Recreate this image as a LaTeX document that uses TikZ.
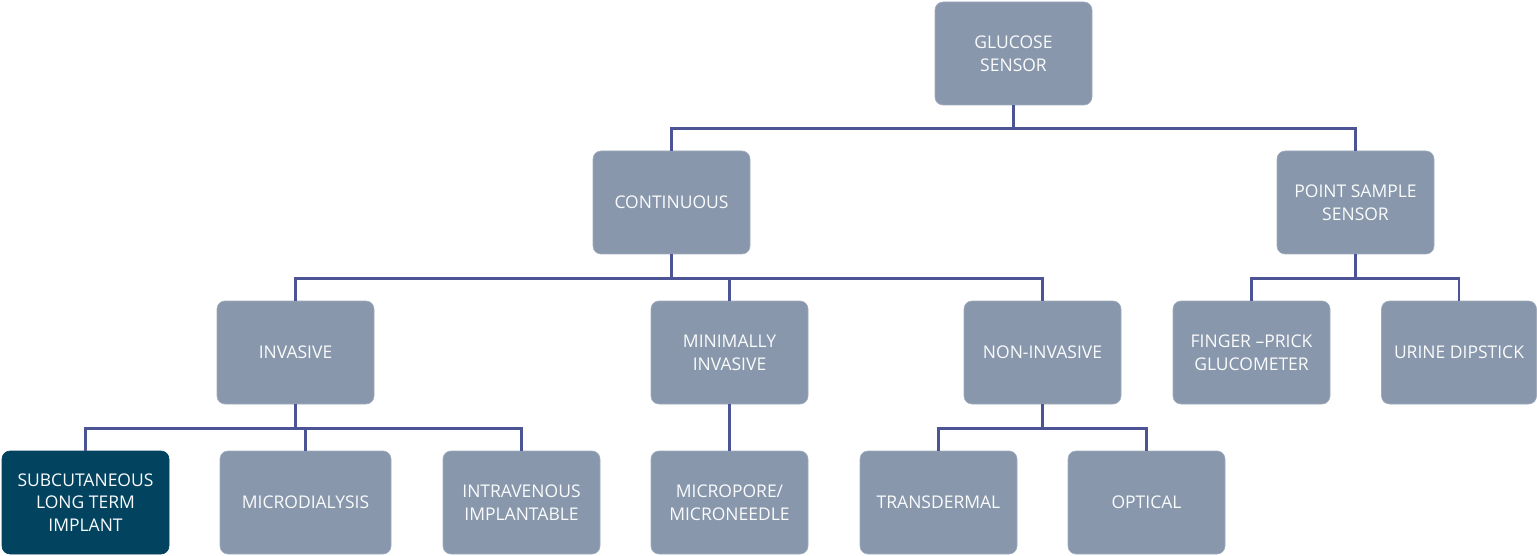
\documentclass[tikz,border=0pt]{standalone}
\usepackage{fontspec}
\setmainfont{Open Sans}
\definecolor{boxfill}{RGB}{136,151,171}
\definecolor{darkfill}{RGB}{2,68,96}
\definecolor{linecol}{RGB}{76,84,150}
\begin{document}
\begin{tikzpicture}[x=1pt,y=-1pt,
  box/.style={fill=boxfill,draw=boxfill!80!white,line width=0.6pt,rounded corners=8pt,minimum width=157pt,minimum height=103pt,
    inner sep=0pt,align=center,text=white!96!boxfill,font=\fontsize{17.5}{22.7}\selectfont},
  darkbox/.style={box,fill=darkfill,draw=darkfill},
  conn/.style={draw=linecol,line width=2.6pt}]
\useasboundingbox (0,0) rectangle (1537,556);
% row 1
\node[box] (gs) at (1013.5,53.5) {GLUCOSE\\SENSOR};
% row 2
\node[box] (cont) at (671.5,202.5) {CONTINUOUS};
\node[box] (ps) at (1355.5,202.5) {POINT SAMPLE\\SENSOR};
% row 3
\node[box] (inv) at (295.5,352.5) {INVASIVE};
\node[box] (mini) at (729.5,352.5) {MINIMALLY\\INVASIVE};
\node[box] (non) at (1042.5,352.5) {NON-INVASIVE};
\node[box] (fing) at (1251.5,352.5) {FINGER –PRICK\\GLUCOMETER};
\node[box,minimum width=155pt] (urine) at (1459,352.5) {URINE DIPSTICK};
% row 4
\node[darkbox,minimum width=167pt] (sub) at (85.5,502.5) {SUBCUTANEOUS\\LONG TERM\\IMPLANT};
\node[box,minimum width=171pt] (micro) at (305.5,502.5) {MICRODIALYSIS};
\node[box] (intra) at (521.5,502.5) {INTRAVENOUS\\IMPLANTABLE};
\node[box] (mpore) at (729.5,502.5) {MICROPORE/\\MICRONEEDLE};
\node[box] (trans) at (938.5,502.5) {TRANSDERMAL};
\node[box] (opt) at (1146.5,502.5) {OPTICAL};
% connectors
\draw[conn] (gs.south) -- ++(0,23) -| (cont.north);
\draw[conn] (gs.south) -- ++(0,23) -| (ps.north);
\draw[conn] (cont.south) -- ++(0,24) -| (inv.north);
\draw[conn] (cont.south) -- ++(0,24) -| (mini.north);
\draw[conn] (cont.south) -- ++(0,24) -| (non.north);
\draw[conn] (ps.south) -- ++(0,24) -| (fing.north);
\draw[conn] (ps.south) -- ++(0,24) -| (urine.north);
\draw[conn] (inv.south) -- ++(0,24) -| (sub.north);
\draw[conn] (inv.south) -- ++(0,24) -| (micro.north);
\draw[conn] (inv.south) -- ++(0,24) -| (intra.north);
\draw[conn] (mini.south) -- (mpore.north);
\draw[conn] (non.south) -- ++(0,24) -| (trans.north);
\draw[conn] (non.south) -- ++(0,24) -| (opt.north);
\end{tikzpicture}
\end{document}
